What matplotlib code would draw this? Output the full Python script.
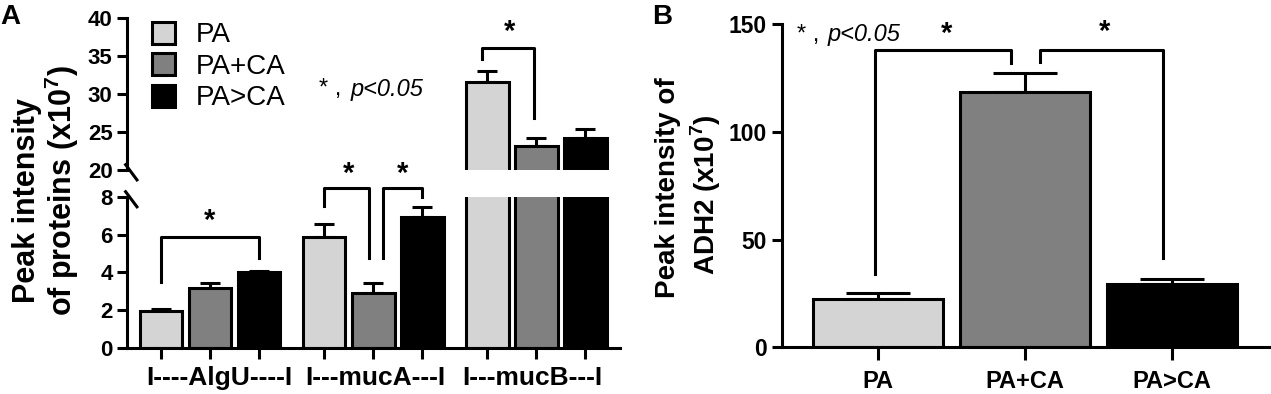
import numpy as np
import matplotlib.pyplot as plt
from matplotlib.patches import Patch

plt.rcParams['font.family'] = ['Liberation Sans', 'DejaVu Sans']
plt.rcParams['mathtext.fontset'] = 'custom'
plt.rcParams['mathtext.rm'] = 'Liberation Sans'
plt.rcParams['mathtext.bf'] = 'Liberation Sans:bold'

# ---- data ----
groups = ['PA', 'PA+CA', 'PA>CA']
colors = ['#d4d4d4', '#808080', '#000000']

genes = ['I----AlgU----I', 'I---mucA---I', 'I---mucB---I']
prot_mean = np.array([[1.96, 3.18, 4.0],
                      [5.88, 2.9, 6.95],
                      [31.6, 23.1, 24.2]])
prot_err = np.array([[0.09, 0.27, 0.09],
                     [0.7, 0.52, 0.53],
                     [1.4, 1.15, 1.15]])

adh2_mean = [22.3, 118.6, 29.4]
adh2_err = [2.7, 8.8, 2.2]

LW = 2.2

fig = plt.figure(figsize=(12.71, 3.94), dpi=100)

# panel A: broken axis
axA_top = fig.add_axes([0.100, 0.5685, 0.388, 0.386])
axA_bot = fig.add_axes([0.100, 0.117, 0.388, 0.383])

step_g = 3.33
width = 0.87
xpos = np.array([[g * step_g + i for i in range(3)] for g in range(3)])

for ax in (axA_top, axA_bot):
    for g in range(3):
        for i in range(3):
            ax.bar(xpos[g, i], prot_mean[g, i], width=width, color=colors[i],
                   edgecolor='black', linewidth=LW, zorder=2)
    ax.set_xlim(-0.69, 9.37)
    for s in ('top', 'right'):
        ax.spines[s].set_visible(False)
    ax.spines['left'].set_linewidth(LW)
    ax.spines['bottom'].set_linewidth(LW)
    ax.tick_params(axis='y', width=LW, length=7, labelsize=16)

axA_top.set_ylim(20, 40)
axA_top.set_yticks([20, 25, 30, 35, 40])
axA_top.spines['bottom'].set_visible(False)
axA_top.set_xticks([])
axA_bot.set_ylim(0, 8)
axA_bot.set_yticks([0, 2, 4, 6, 8])
axA_bot.set_xticks(xpos.ravel())
axA_bot.tick_params(axis='x', width=LW, length=8, labelbottom=False)
for ax in (axA_top, axA_bot):
    for lab in ax.get_yticklabels():
        lab.set_fontweight('bold')

label_shift = [0.2, 0.05, -0.08]
for g in range(3):
    axA_bot.text(xpos[g, 1] + label_shift[g], -0.95, genes[g], ha='center',
                 va='top', fontsize=19, fontweight='bold')

# error bars (upper only)
for g in range(3):
    ax = axA_top if g == 2 else axA_bot
    for i in range(3):
        ax.errorbar(xpos[g, i], prot_mean[g, i], yerr=[[0], [prot_err[g, i]]],
                    fmt='none', ecolor='black', elinewidth=LW, capsize=7,
                    capthick=LW, zorder=1)

# break marks
for ax, y0 in ((axA_top, 0.0), (axA_bot, 1.0)):
    ax.plot([-0.003, 0.02], [y0 + 0.035, y0 - 0.065], transform=ax.transAxes,
            color='black', lw=LW, clip_on=False)


def bracket(ax, x1, x2, ytop, yl, yr, xstar, ystar, lw=LW, size=21):
    ax.plot([x1, x1, x2, x2], [yl, ytop, ytop, yr], color='black', lw=lw,
            clip_on=False, zorder=3)
    ax.text(xstar, ystar, '*', ha='center', va='center',
            fontsize=size, fontweight='bold', clip_on=False)


bracket(axA_bot, xpos[0, 0], xpos[0, 2], 5.87, 3.5, 4.75,
        (xpos[0, 0] + xpos[0, 2]) / 2, 6.75)
bracket(axA_bot, xpos[1, 0], xpos[1, 1] - 0.08, 8.47, 7.5, 4.75,
        (xpos[1, 0] + xpos[1, 1]) / 2, 9.2)
bracket(axA_bot, xpos[1, 1] + 0.2, xpos[1, 2], 8.47, 4.75, 8.0,
        (xpos[1, 1] + xpos[1, 2]) / 2 + 0.1, 9.2)
bracket(axA_top, xpos[2, 0] - 0.1, xpos[2, 1] - 0.05, 36.1, 34.6, 26.8,
        (xpos[2, 0] + xpos[2, 1]) / 2 - 0.05, 38.1)

axA_top.text(3.22, 30.6, '* ,', fontsize=17, ha='left', va='center')
axA_top.text(3.86, 30.6, 'p<0.05', fontsize=17, style='italic', ha='left',
             va='center')

handles = [Patch(facecolor=c, edgecolor='black', linewidth=LW) for c in colors]
axA_top.legend(handles, groups, loc='upper left', bbox_to_anchor=(0.05, 0.975),
               frameon=False, fontsize=20, handlelength=0.83,
               handleheight=0.83, handletextpad=0.75, labelspacing=0.18,
               borderpad=0, borderaxespad=0)

fig.text(0.021, 0.492, 'Peak intensity', rotation=90, ha='center',
         va='center', fontsize=22, fontweight='bold')
fig.text(0.049, 0.515, r'of proteins (x10$^{\mathbf{7}}$)', rotation=90,
         ha='center', va='center', fontsize=22, fontweight='bold')
fig.text(0.0, 0.99, 'A', fontsize=20, fontweight='bold', va='top')

# panel B
axB = fig.add_axes([0.615, 0.1185, 0.384, 0.8205])
xb = np.arange(3)
axB.bar(xb, adh2_mean, width=0.884, color=colors, edgecolor='black',
        linewidth=LW, zorder=2)
axB.errorbar(xb, adh2_mean, yerr=[np.zeros(3), adh2_err], fmt='none',
             ecolor='black', elinewidth=LW, capsize=22.7, capthick=LW,
             zorder=1)
axB.set_xlim(-0.653, 2.667)
axB.set_ylim(0, 150)
axB.set_yticks([0, 50, 100, 150])
axB.set_xticks(xb)
axB.set_xticklabels(groups, fontsize=17, fontweight='bold')
for s in ('top', 'right'):
    axB.spines[s].set_visible(False)
axB.spines['left'].set_linewidth(LW)
axB.spines['bottom'].set_linewidth(LW)
axB.tick_params(axis='y', width=LW, length=7, labelsize=16.5)
axB.tick_params(axis='x', width=LW, length=9, pad=7)
for lab in axB.get_yticklabels():
    lab.set_fontweight('bold')

bracket(axB, -0.016, 0.91, 138, 33.9, 131.8, 0.47, 145.3)
bracket(axB, 1.107, 1.94, 138, 132.5, 41.3, 1.54, 146.5)
axB.text(-0.55, 145, '* ,', fontsize=17, ha='left', va='center')
axB.text(-0.34, 145, 'p<0.05', fontsize=17, style='italic', ha='left',
         va='center')

fig.text(0.5256, 0.523, 'Peak intensity of', rotation=90, ha='center',
         va='center', fontsize=20, fontweight='bold')
fig.text(0.5555, 0.505, r'ADH2 (x10$^{\mathbf{7}}$)', rotation=90,
         ha='center', va='center', fontsize=20, fontweight='bold')
fig.text(0.513, 0.99, 'B', fontsize=20, fontweight='bold', va='top')

fig.savefig('out.png', dpi=100)
